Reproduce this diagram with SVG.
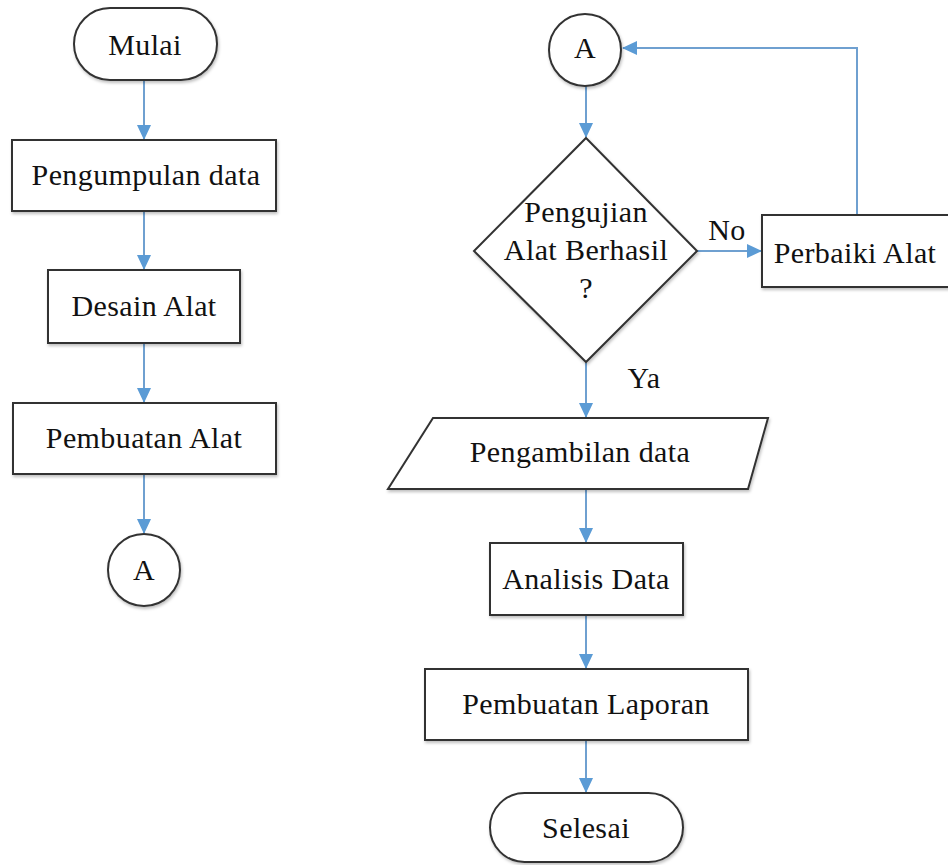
<svg xmlns="http://www.w3.org/2000/svg" width="948" height="865" viewBox="0 0 948 865">
<defs>
<marker id="ah" markerWidth="15" markerHeight="14" refX="14" refY="7" orient="auto" markerUnits="userSpaceOnUse">
<path d="M0,0 L15,7 L0,14 Z" fill="#5B9BD5"/>
</marker>
<filter id="sh" x="-5%" y="-5%" width="115%" height="120%">
<feDropShadow dx="1" dy="2" stdDeviation="1.5" flood-color="#000" flood-opacity="0.25"/>
</filter>
</defs>
<style>
.n{fill:#fff;stroke:#333;stroke-width:2;filter:url(#sh)}
.t{font-family:"Liberation Serif","Times New Roman",serif;font-size:30px;fill:#111;text-anchor:middle;letter-spacing:0.4px}
.c{fill:none;stroke:#6FA0D0;stroke-width:2;marker-end:url(#ah)}
</style>
<rect width="948" height="865" fill="#fff"/>
<g id="connectors">
<path class="c" d="M144,80 V139"/>
<path class="c" d="M144,211 V269"/>
<path class="c" d="M144,343 V402"/>
<path class="c" d="M144,474 V533"/>
<path class="c" d="M586,86 V137"/>
<path class="c" d="M697,251 H761"/>
<path class="c" d="M857,215 V48 H623"/>
<path class="c" d="M586,363 V417"/>
<path class="c" d="M586,489 V542"/>
<path class="c" d="M586,615 V668"/>
<path class="c" d="M586,740 V792"/>
</g>
<g id="mulai"><rect class="n" x="74" y="8" width="143" height="72" rx="36"/><text class="t" x="145" y="55">Mulai</text></g>
<g id="pengumpulan"><rect class="n" x="12" y="140" width="264" height="71"/><text class="t" x="146" y="185">Pengumpulan data</text></g>
<g id="desain"><rect class="n" x="48" y="270" width="192" height="73"/><text class="t" x="144" y="316">Desain Alat</text></g>
<g id="pembuatan-alat"><rect class="n" x="13" y="403" width="263" height="71"/><text class="t" x="144" y="448">Pembuatan Alat</text></g>
<g id="a-left"><circle class="n" cx="144" cy="570" r="36"/><text class="t" x="144" y="580">A</text></g>
<g id="a-right"><circle class="n" cx="585" cy="50" r="36"/><text class="t" x="585" y="58">A</text></g>
<g id="decision"><path class="n" d="M586,138 L697,251 L586,362 L474,251 Z"/>
<text class="t" x="586" y="222">Pengujian</text>
<text class="t" x="586" y="260">Alat Berhasil</text>
<text class="t" x="586" y="298">?</text></g>
<g id="no-label"><text class="t" x="727" y="240">No</text></g>
<g id="ya-label"><text class="t" x="644" y="388">Ya</text></g>
<g id="perbaiki"><rect class="n" x="762" y="215" width="200" height="72"/><text class="t" x="855" y="263">Perbaiki Alat</text></g>
<g id="pengambilan"><path class="n" d="M433,418 H768 L748,489 H388 Z"/><text class="t" x="580" y="462">Pengambilan data</text></g>
<g id="analisis"><rect class="n" x="490" y="543" width="193" height="72"/><text class="t" x="586" y="589">Analisis Data</text></g>
<g id="laporan"><rect class="n" x="425" y="669" width="323" height="71"/><text class="t" x="586" y="714">Pembuatan Laporan</text></g>
<g id="selesai"><rect class="n" x="490" y="793" width="193" height="69" rx="34.5"/><text class="t" x="586" y="838">Selesai</text></g>
</svg>
